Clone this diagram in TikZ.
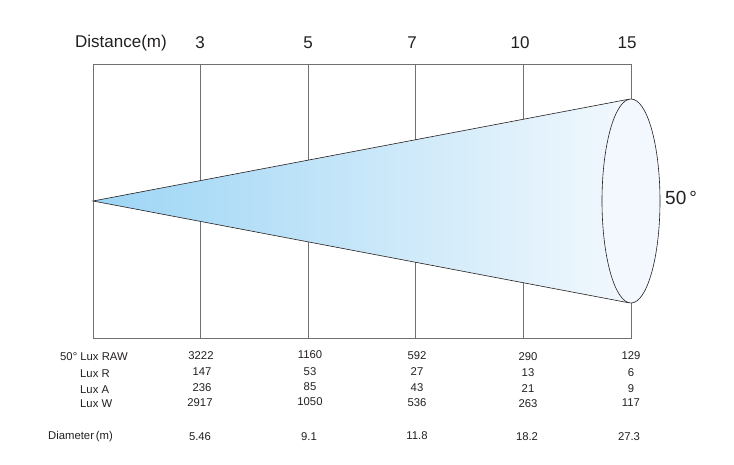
\documentclass[tikz,border=0pt]{standalone}
\usepackage{fontspec}
\setmainfont{Liberation Sans}
\definecolor{framegray}{HTML}{707070}
\definecolor{inkblack}{HTML}{231F20}
\definecolor{beamblue}{HTML}{9CD5F5}
\definecolor{beamwhite}{HTML}{F2F8FD}
\begin{document}
\begin{tikzpicture}[x=1pt,y=-1pt,
  grid/.style={draw=framegray,line width=0.9pt},
  head/.style={font=\fontsize{17}{17}\selectfont,text=inkblack,inner sep=0pt},
  cell/.style={font=\fontsize{11.3}{11.3}\selectfont,text=inkblack,inner sep=0pt}]
\useasboundingbox (0,0) rectangle (734,464);

\draw[grid] (93,64) rectangle (631,338);
\draw[grid] (200,64) -- (200,338);
\draw[grid] (308,64) -- (308,338);
\draw[grid] (415,64) -- (415,338);
\draw[grid] (523,64) -- (523,338);

\coordinate (apex) at (93,201);
\coordinate (rimtop) at (629.4,99.1);
\coordinate (rimbot) at (629.4,302.9);
\shade[left color=beamblue,right color=beamwhite] (apex) -- (rimtop) -- (rimbot) -- cycle;
\draw[inkblack,line width=0.6pt] (rimtop) -- (apex) -- (rimbot);
\draw[inkblack,line width=0.6pt,fill=beamwhite] (631,201) ellipse [x radius=29,y radius=102];

\node[head] (dist) at (121,43) {Distance(m)};
\node[head] (d3) at (200,43) {3};
\node[head] (d5) at (308,43) {5};
\node[head] (d7) at (412,43) {7};
\node[head] (d10) at (520,43) {10};
\node[head] (d15) at (627,43) {15};
\node[head,font=\fontsize{19}{19}\selectfont,anchor=west] (angle) at (665,198) {50\,°};

\node[cell,anchor=west] (lraw) at (60,357) {50° Lux RAW};
\node[cell,anchor=west] (lr) at (80,374) {Lux R};
\node[cell,anchor=west] (la) at (80,390) {Lux A};
\node[cell,anchor=west] (lw) at (80,404) {Lux W};
\node[cell,anchor=west] (ldia) at (48,437) {Diameter\,(m)};

% 3 m
\node[cell] (raw3) at (201,356) {3222};
\node[cell] (r3) at (202,372) {147};
\node[cell] (a3) at (202,388) {236};
\node[cell] (w3) at (200,403) {2917};
\node[cell] (dia3) at (200,437) {5.46};
% 5 m
\node[cell] (raw5) at (310,355) {1160};
\node[cell] (r5) at (310,372) {53};
\node[cell] (a5) at (310,387) {85};
\node[cell] (w5) at (310,402) {1050};
\node[cell] (dia5) at (309,437) {9.1};
% 7 m
\node[cell] (raw7) at (417,356) {592};
\node[cell] (r7) at (417,372) {27};
\node[cell] (a7) at (417,388) {43};
\node[cell] (w7) at (417,403) {536};
\node[cell] (dia7) at (417,436) {11.8};
% 10 m
\node[cell] (raw10) at (528,357) {290};
\node[cell] (r10) at (528,373) {13};
\node[cell] (a10) at (528,389) {21};
\node[cell] (w10) at (528,404) {263};
\node[cell] (dia10) at (527,437) {18.2};
% 15 m
\node[cell] (raw15) at (631,356) {129};
\node[cell] (r15) at (631,373) {6};
\node[cell] (a15) at (631,389) {9};
\node[cell] (w15) at (631,403) {117};
\node[cell] (dia15) at (629,437) {27.3};
\end{tikzpicture}
\end{document}
